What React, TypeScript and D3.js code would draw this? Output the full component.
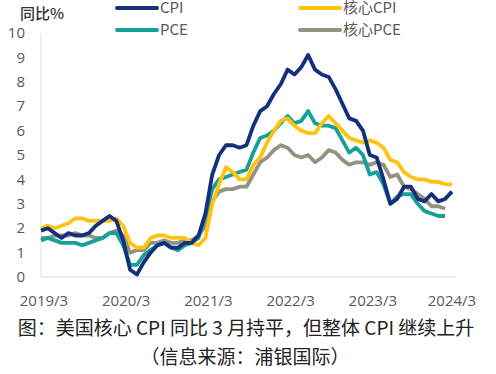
import React from "react";
import * as d3 from "d3";

const months: string[] = (() => {
  const out: string[] = [];
  for (let y = 2019; y <= 2024; y++) {
    for (let m = 1; m <= 12; m++) {
      if (y === 2019 && m < 3) continue;
      if (y === 2024 && m > 3) continue;
      out.push(`${y}/${m}`);
    }
  }
  return out;
})();

const tickLabels = ["2019/3", "2020/3", "2021/3", "2022/3", "2023/3", "2024/3"];
const yTicks = [0, 1, 2, 3, 4, 5, 6, 7, 8, 9, 10];

const cpi = [1.9, 2.0, 1.8, 1.6, 1.8, 1.7, 1.7, 1.8, 2.1, 2.3, 2.5, 2.3, 1.5, 0.3, 0.1, 0.6, 1.0, 1.3, 1.4, 1.2, 1.2, 1.4, 1.4, 1.7, 2.6, 4.2, 5.0, 5.4, 5.4, 5.3, 5.4, 6.2, 6.8, 7.0, 7.5, 7.9, 8.5, 8.3, 8.6, 9.1, 8.5, 8.3, 8.2, 7.7, 7.1, 6.5, 6.4, 6.0, 5.0, 4.9, 4.0, 3.0, 3.2, 3.7, 3.7, 3.2, 3.1, 3.4, 3.1, 3.2, 3.5];
const coreCpi = [2.0, 2.1, 2.0, 2.1, 2.2, 2.4, 2.4, 2.3, 2.3, 2.3, 2.3, 2.4, 2.1, 1.4, 1.2, 1.2, 1.6, 1.7, 1.7, 1.6, 1.6, 1.6, 1.4, 1.3, 1.6, 3.0, 3.8, 4.5, 4.3, 4.0, 4.0, 4.6, 4.9, 5.5, 6.0, 6.4, 6.5, 6.2, 6.0, 5.9, 5.9, 6.3, 6.6, 6.3, 6.0, 5.7, 5.6, 5.5, 5.6, 5.5, 5.3, 4.8, 4.7, 4.3, 4.1, 4.0, 4.0, 3.9, 3.9, 3.8, 3.8];
const pce = [1.5, 1.6, 1.5, 1.4, 1.4, 1.4, 1.3, 1.4, 1.5, 1.6, 1.8, 1.8, 1.3, 0.5, 0.5, 0.9, 1.1, 1.3, 1.4, 1.2, 1.1, 1.3, 1.4, 1.6, 2.5, 3.6, 4.0, 4.1, 4.2, 4.3, 4.4, 5.1, 5.7, 5.8, 6.0, 6.3, 6.6, 6.3, 6.4, 6.8, 6.3, 6.2, 6.2, 6.1, 5.6, 5.1, 5.3, 5.0, 4.2, 4.3, 3.8, 3.0, 3.3, 3.4, 3.4, 3.0, 2.7, 2.6, 2.5, 2.5];
const corePce = [1.6, 1.6, 1.7, 1.7, 1.7, 1.8, 1.7, 1.7, 1.6, 1.6, 1.8, 1.9, 1.7, 1.0, 1.1, 1.1, 1.4, 1.4, 1.5, 1.4, 1.4, 1.5, 1.5, 1.7, 2.1, 3.1, 3.5, 3.6, 3.6, 3.7, 3.7, 4.2, 4.7, 4.9, 5.2, 5.4, 5.3, 5.0, 4.9, 5.0, 4.7, 4.9, 5.2, 5.1, 4.8, 4.6, 4.7, 4.7, 4.6, 4.7, 4.6, 4.1, 4.2, 3.7, 3.6, 3.4, 3.2, 2.9, 2.9, 2.8];

const seriesNames = ["CPI", "核心CPI", "PCE", "核心PCE"];
const seriesData = [cpi, coreCpi, pce, corePce];
const colors = ["#14307c", "#ffc20e", "#16a09a", "#939380"];

const W = 496;
const H = 374;

export default function App() {
  const x = d3.scalePoint<string>().domain(months).range([41, 452]);
  const y = d3.scaleLinear().domain([0, 10]).range([277, 33]);
  const line = d3
    .line<number>()
    .x((_, i) => x(months[i]) as number)
    .y((d) => y(d))
    .curve(d3.curveLinear);
  const axisFont = "Open Sans, Liberation Sans, sans-serif";
  const cjk = "Noto Sans CJK SC, sans-serif";
  const drawOrder = [3, 2, 1, 0];
  const legendPos = [
    { x: 117, y: 8 },
    { x: 300, y: 8 },
    { x: 117, y: 30 },
    { x: 300, y: 30 },
  ];
  return (
    <svg
      width={W}
      height={H}
      viewBox={`0 0 ${W} ${H}`}
      style={{ position: "absolute", left: 0, top: 0, background: "#fff" }}
    >
      <rect x={0} y={0} width={W} height={H} fill="#fff" />
      <text x={20} y={19} fontFamily={cjk} fontSize={15} fill="#333" fontWeight={500}>
        同比%
      </text>
      <line x1={41} x2={41} y1={33} y2={277} stroke="#e3e3e3" strokeWidth={1} />
      <line x1={41} x2={455} y1={277} y2={277} stroke="#d9d9d9" strokeWidth={1} />
      {yTicks.map((t) => (
        <text
          key={t}
          x={25}
          y={y(t)}
          dy="0.35em"
          textAnchor="end"
          fontFamily={axisFont}
          fontSize={15}
          fill="#595959"
        >
          {t}
        </text>
      ))}
      {tickLabels.map((t, i) => (
        <text
          key={t}
          x={(x(t) as number) + (i === tickLabels.length - 1 ? 0 : 3)}
          y={301}
          dy="0.35em"
          textAnchor="middle"
          fontFamily={axisFont}
          fontSize={15}
          fill="#595959"
        >
          {t}
        </text>
      ))}
      {drawOrder.map((k) => (
        <path
          key={seriesNames[k]}
          d={line(seriesData[k]) || ""}
          fill="none"
          stroke={colors[k]}
          strokeWidth={3.8}
          strokeLinejoin="round"
        />
      ))}
      {seriesNames.map((n, i) => (
        <g key={n}>
          <line
            x1={legendPos[i].x}
            x2={legendPos[i].x + 40}
            y1={legendPos[i].y}
            y2={legendPos[i].y}
            stroke={colors[i]}
            strokeWidth={4}
            strokeLinecap="round"
          />
          <text
            x={legendPos[i].x + 43}
            y={legendPos[i].y}
            dy="0.35em"
            fontFamily={cjk}
            fontSize={15}
            fill="#595959"
          >
            {n}
          </text>
        </g>
      ))}
      <text x={246} y={328} dy="0.35em" textAnchor="middle" fontFamily={cjk} fontSize={19} fill="#222">
        图：美国核心 CPI 同比 3 月持平，但整体 CPI 继续上升
      </text>
      <text x={245} y={357} dy="0.35em" textAnchor="middle" fontFamily={cjk} fontSize={19} fill="#222">
        （信息来源：浦银国际）
      </text>
    </svg>
  );
}
